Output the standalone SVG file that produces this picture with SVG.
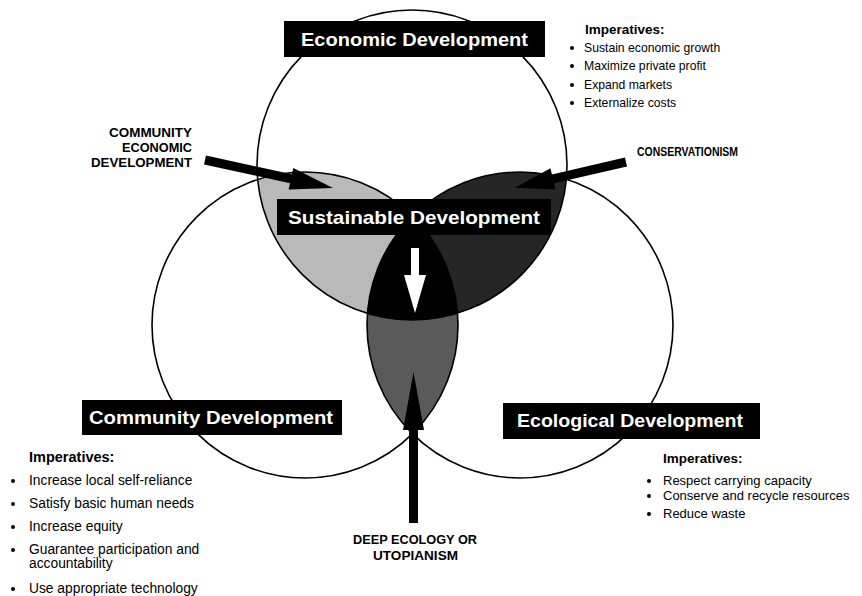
<svg xmlns="http://www.w3.org/2000/svg" width="862" height="596" viewBox="0 0 862 596">
<style>
.ring{fill:none;stroke:#000;stroke-width:1.6}
.box{fill:#000}
.title{fill:#fff;font-family:"Liberation Sans",Arial,sans-serif;font-weight:bold;font-size:19px}
.cap{fill:#000;font-family:"Liberation Sans",Arial,sans-serif;font-weight:bold;font-size:12px}
.imp{fill:#000;font-family:"Liberation Sans",Arial,sans-serif;font-weight:bold}
.item{fill:#000;font-family:"Liberation Sans",Arial,sans-serif}
.tr{font-size:12.2px}
.bl{font-size:13.8px}
.br{font-size:13px}
.dot{fill:#000}
</style>
<defs>
<clipPath id="cTop"><circle cx="412" cy="165" r="155"/></clipPath>
<clipPath id="cLeft"><circle cx="305" cy="325" r="153"/></clipPath>
<clipPath id="cRight"><circle cx="520" cy="325" r="153"/></clipPath>
</defs>
<rect width="862" height="596" fill="#fff"/>
<g id="overlaps">
<circle cx="305" cy="325" r="153" fill="#b9b9b9" clip-path="url(#cTop)"/>
<circle cx="520" cy="325" r="153" fill="#262626" clip-path="url(#cTop)"/>
<circle cx="520" cy="325" r="153" fill="#5a5a5a" clip-path="url(#cLeft)"/>
<g clip-path="url(#cTop)"><circle cx="520" cy="325" r="153" fill="#000" clip-path="url(#cLeft)"/></g>
</g>
<g id="rings">
<circle class="ring" cx="412" cy="165" r="155"/>
<circle class="ring" cx="305" cy="325" r="153"/>
<circle class="ring" cx="520" cy="325" r="153"/>
</g>
<g id="connectors">
<polygon fill="#000" transform="translate(205,160) rotate(12.3)" points="0,-4.5 88,-4.5 88,-11 131,0 88,11 88,4.5 0,4.5"/>
<polygon fill="#000" transform="translate(626,162) rotate(167)" points="0,-4.5 75,-4.5 75,-11 114,0 75,11 75,4.5 0,4.5"/>
<polygon fill="#000" points="409,523 409,430 403,430 413.5,372 424,430 418,430 418,523"/>
<polygon fill="#fff" points="411,248 419,248 419,275 426,275 415,313 404,275 411,275"/>
</g>
<g id="economic">
<rect class="box" x="284" y="21" width="261" height="36"/>
<text class="title" x="301" y="46" textLength="227" lengthAdjust="spacingAndGlyphs">Economic Development</text>
</g>
<g id="sustainable">
<rect class="box" x="277" y="199" width="274" height="36"/>
<text class="title" x="288" y="224" textLength="252" lengthAdjust="spacingAndGlyphs">Sustainable Development</text>
</g>
<g id="community">
<rect class="box" x="82" y="400" width="260" height="35"/>
<text class="title" x="89" y="424" textLength="244" lengthAdjust="spacingAndGlyphs">Community Development</text>
</g>
<g id="ecological">
<rect class="box" x="503" y="403" width="257" height="36"/>
<text class="title" x="517" y="427" textLength="226" lengthAdjust="spacingAndGlyphs">Ecological Development</text>
</g>
<g id="community-economic">
<text class="cap" x="109" y="137" textLength="83" lengthAdjust="spacingAndGlyphs">COMMUNITY</text>
<text class="cap" x="122" y="152" textLength="70" lengthAdjust="spacingAndGlyphs">ECONOMIC</text>
<text class="cap" x="91" y="167" textLength="101" lengthAdjust="spacingAndGlyphs">DEVELOPMENT</text>
</g>
<g id="conservationism">
<text class="cap" x="637" y="156" textLength="101" lengthAdjust="spacingAndGlyphs">CONSERVATIONISM</text>
</g>
<g id="deep-ecology">
<text class="cap" x="353" y="544" textLength="124" lengthAdjust="spacingAndGlyphs">DEEP ECOLOGY OR</text>
<text class="cap" x="373" y="560" textLength="85" lengthAdjust="spacingAndGlyphs">UTOPIANISM</text>
</g>
<g id="economic-imperatives">
<text class="imp" x="585" y="34" font-size="13.5">Imperatives:</text>
<circle class="dot" cx="572" cy="48" r="2"/>
<text class="item tr" x="584" y="52">Sustain economic growth</text>
<circle class="dot" cx="572" cy="66" r="2"/>
<text class="item tr" x="584" y="70">Maximize private profit</text>
<circle class="dot" cx="572" cy="85" r="2"/>
<text class="item tr" x="584" y="89">Expand markets</text>
<circle class="dot" cx="572" cy="103" r="2"/>
<text class="item tr" x="584" y="107">Externalize costs</text>
</g>
<g id="community-imperatives">
<text class="imp" x="29" y="462" font-size="14.5">Imperatives:</text>
<circle class="dot" cx="13" cy="481" r="2"/>
<text class="item bl" x="29" y="485">Increase local self-reliance</text>
<circle class="dot" cx="13" cy="504" r="2"/>
<text class="item bl" x="29" y="508">Satisfy basic human needs</text>
<circle class="dot" cx="13" cy="527" r="2"/>
<text class="item bl" x="29" y="531">Increase equity</text>
<circle class="dot" cx="13" cy="550" r="2"/>
<text class="item bl" x="29" y="554">Guarantee participation and</text>
<text class="item bl" x="29" y="568">accountability</text>
<circle class="dot" cx="13" cy="589" r="2"/>
<text class="item bl" x="29" y="593">Use appropriate technology</text>
</g>
<g id="ecological-imperatives">
<text class="imp" x="663" y="463" font-size="13.5">Imperatives:</text>
<circle class="dot" cx="649" cy="481" r="2"/>
<text class="item br" x="663" y="485">Respect carrying capacity</text>
<circle class="dot" cx="649" cy="496" r="2"/>
<text class="item br" x="663" y="500">Conserve and recycle resources</text>
<circle class="dot" cx="649" cy="514" r="2"/>
<text class="item br" x="663" y="518">Reduce waste</text>
</g>
</svg>
